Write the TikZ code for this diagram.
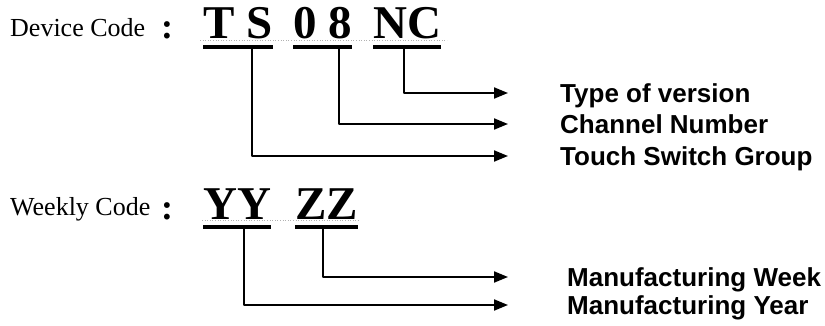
\documentclass[tikz,border=0pt]{standalone}
\usepackage{fontspec}
\setmainfont{Liberation Serif}
\newfontfamily\lblfont{Liberation Sans}
\usetikzlibrary{arrows.meta}

\begin{document}
\begin{tikzpicture}[x=1pt, y=-1pt, line join=round,
	conn/.style={line width=2pt, -{Triangle[length=14pt,width=11pt]}},
	uline/.style={line width=4pt},
	gline/.style={gray!60, dotted, line width=0.6pt},
	head/.style={anchor=base west, inner sep=0pt, font=\fontsize{26}{26}\selectfont},
	colon/.style={anchor=base, inner sep=0pt, font=\fontsize{36}{36}\selectfont\bfseries},
	code/.style={anchor=base west, inner sep=0pt, font=\fontsize{47}{47}\selectfont\bfseries},
	lbl/.style={anchor=west, inner sep=0pt, text height=18.6pt, text depth=0pt, font=\lblfont\fontsize{26}{26}\selectfont\bfseries}]
					\useasboundingbox (0,0) rectangle (825,326);
					% device code
					\draw[gline] (200,40) -- (447,40);
					\node[head] (dev) at (10,37) {Device Code};
					\node[colon] (devc) at (167,39) {:};
					\node[code] (ts) at (203,39) {T S};
					\node[code] (ch) at (293,39) {0 8};
					\node[code] (nc) at (373,39) {NC};
					\foreach \n in {ts,ch,nc}
					\draw[uline] ([yshift=-8pt]\n.base west) -- ([yshift=-8pt]\n.base east);
					\node[lbl] (ver) at (560,93) {Type of version};
					\node[lbl] (chn) at (560,124) {Channel Number};
					\node[lbl] (grp) at (560,156) {Touch Switch Group};
					\coordinate (tsd) at (252,49);
					\coordinate (chd) at (339,49);
					\coordinate (ncd) at (404,49);
					\draw[conn] (ncd) |- ([xshift=-52pt]ver.west);
					\draw[conn] (chd) |- ([xshift=-52pt]chn.west);
					\draw[conn] (tsd) |- ([xshift=-52pt]grp.west);
					% weekly code
					\draw[gline] (202,220) -- (360,220);
					\node[head] (wk) at (10,215) {Weekly Code};
					\node[colon] (wkc) at (167,219) {:};
					\node[code] (yy) at (203,219) {YY};
					\node[code] (zz) at (295,219) {ZZ};
					\foreach \n in {yy,zz}
					\draw[uline] ([yshift=-8pt]\n.base west) -- ([yshift=-8pt]\n.base east);
					\node[lbl] (mwk) at (567,277) {Manufacturing Week};
					\node[lbl] (myr) at (567,305) {Manufacturing Year};
					\coordinate (yyd) at (244,229);
					\coordinate (zzd) at (323,229);
					\draw[conn] (zzd) |- ([xshift=-59pt]mwk.west);
					\draw[conn] (yyd) |- ([xshift=-59pt]myr.west);
				\end{tikzpicture}
\end{document}
